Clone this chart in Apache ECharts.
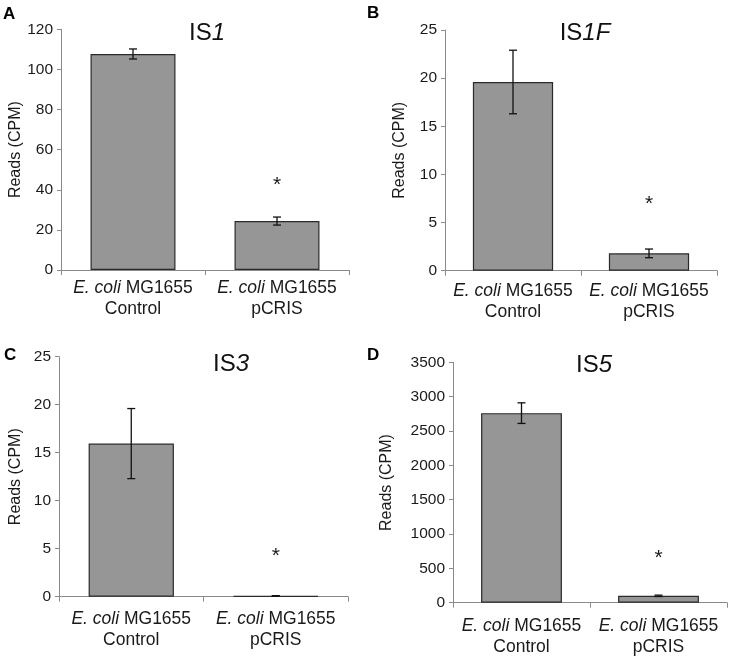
<!DOCTYPE html>
<html><head><meta charset="utf-8">
<script src="https://cdn.jsdelivr.net/npm/echarts@6/dist/echarts.min.js"></script>
<style>html,body{margin:0;padding:0;background:#fff}#c{width:737px;height:660px}</style>
</head><body><div id="c"></div>
<script>
// ---- data ----
const strain = 'E. coli';
const strainId = 'MG1655';
const conditions = ['Control', 'pCRIS'];
const panelLetters = ['A', 'B', 'C', 'D'];
const titleNames = ['1', '1F', '3', '5'];          // rendered as IS + italic part
const valuesIS1 = [107.7, 24.4];
const errorsIS1 = [2.5, 2.0];
const valuesIS1F = [19.6, 1.8];
const errorsIS1F = [3.3, 0.45];
const valuesIS3 = [15.95, 0.08];
const errorsIS3 = [3.65, 0.03];
const valuesIS5 = [2760, 100];
const errorsIS5 = [150, 10];
const yMax = [120, 25, 25, 3500];
const yInterval = [20, 5, 5, 500];
const starLevel = [42.4, 6.9, 4.2, 655];   // height of the significance asterisk
const yAxisName = 'Reads (CPM)';

const values = [valuesIS1, valuesIS1F, valuesIS3, valuesIS5];
const errors = [errorsIS1, errorsIS1F, errorsIS3, errorsIS5];

// ---- layout ----
const FONT = '"Liberation Sans", Arial, sans-serif';
const grids = [
  {left: 61, top: 29.3, width: 288, height: 240.7},
  {left: 445, top: 30, width: 272, height: 240.7},
  {left: 59, top: 356.7, width: 289, height: 240},
  {left: 453, top: 362.3, width: 274, height: 240.4}
];
const nameGaps = [37, 37, 35, 58];
const catMargins = [8, 10, 12, 13];
const titlePos = [[207, 33], [585, 33.5], [231, 364], [594, 365]];
const letterPos = [[3, 14], [367, 13], [4, 355], [367, 355]];
const axisColor = '#8a8a8a';

const option = {
  animation: false,
  backgroundColor: '#fff',
  grid: grids.map(g => Object.assign({containLabel: false}, g)),
  xAxis: grids.map((g, i) => ({
    type: 'category', gridIndex: i, data: conditions,
    axisLine: {lineStyle: {color: axisColor, width: 1}},
    axisTick: {show: true, length: 5, alignWithLabel: false, lineStyle: {color: axisColor}},
    axisLabel: {
      interval: 0, margin: catMargins[i], color: '#1a1a1a', fontFamily: FONT, fontSize: 17.5, lineHeight: 21,
      formatter: v => '{it|' + strain + '} ' + strainId + '\n' + v,
      rich: {it: {fontStyle: 'italic', fontFamily: FONT, fontSize: 17.5, color: '#1a1a1a', lineHeight: 21}}
    }
  })),
  yAxis: grids.map((g, i) => ({
    type: 'value', gridIndex: i, min: 0, max: yMax[i], interval: yInterval[i],
    splitLine: {show: false},
    axisLine: {show: true, lineStyle: {color: axisColor, width: 1}},
    axisTick: {show: true, length: 4, lineStyle: {color: axisColor}},
    axisLabel: {margin: 8, color: '#1a1a1a', fontFamily: FONT, fontSize: 15.5, formatter: v => String(v)},
    name: yAxisName, nameLocation: 'middle', nameRotate: 90,
    nameGap: nameGaps[i],
    nameTextStyle: {color: '#1a1a1a', fontFamily: FONT, fontSize: 16}
  })),
  series: [],
  graphic: []
};

for (let i = 0; i < 4; i++) {
  option.series.push({
    type: 'bar', xAxisIndex: i, yAxisIndex: i, data: values[i], barWidth: '59%',
    itemStyle: {color: '#969696', borderColor: '#2a2a2a', borderWidth: 1.2}
  });
  option.series.push({
    type: 'custom', xAxisIndex: i, yAxisIndex: i,
    data: values[i].map((v, k) => [k, v, errors[i][k]]),
    z: 5,
    renderItem: (params, api) => {
      const x = api.value(0), v = api.value(1), e = api.value(2);
      const top = api.coord([x, v + e]);
      const bot = api.coord([x, v - e]);
      const cw = 4;
      const st = {stroke: '#111', lineWidth: 1.3};
      return {type: 'group', children: [
        {type: 'line', shape: {x1: top[0], y1: top[1], x2: bot[0], y2: bot[1]}, style: st},
        {type: 'line', shape: {x1: top[0] - cw, y1: top[1], x2: top[0] + cw, y2: top[1]}, style: st},
        {type: 'line', shape: {x1: bot[0] - cw, y1: bot[1], x2: bot[0] + cw, y2: bot[1]}, style: st}
      ]};
    }
  });
  option.series.push({
    type: 'custom', xAxisIndex: i, yAxisIndex: i,
    data: [[1, starLevel[i]]], z: 6,
    renderItem: (params, api) => {
      const p = api.coord([api.value(0), api.value(1)]);
      return {type: 'text', x: p[0], y: p[1], style: {
        text: '*', fontFamily: FONT, fontSize: 21, fill: '#1a1a1a',
        textAlign: 'center', textVerticalAlign: 'middle'}};
    }
  });
  option.graphic.push({
    type: 'text', x: titlePos[i][0], y: titlePos[i][1],
    style: {
      text: '{n|IS}{it|' + titleNames[i] + '}',
      textAlign: 'center', textVerticalAlign: 'middle',
      rich: {
        n: {fontFamily: FONT, fontSize: 24, fill: '#111'},
        it: {fontFamily: FONT, fontSize: 24, fontStyle: 'italic', fill: '#111'}
      }
    }
  });
  option.graphic.push({
    type: 'text', x: letterPos[i][0], y: letterPos[i][1],
    style: {text: panelLetters[i], fontFamily: FONT, fontSize: 17, fontWeight: 'bold',
      fill: '#000', textVerticalAlign: 'middle'}
  });
}

const chart = echarts.init(document.getElementById('c'), null, {renderer: 'canvas'});
chart.setOption(option);
</script>
</body></html>
